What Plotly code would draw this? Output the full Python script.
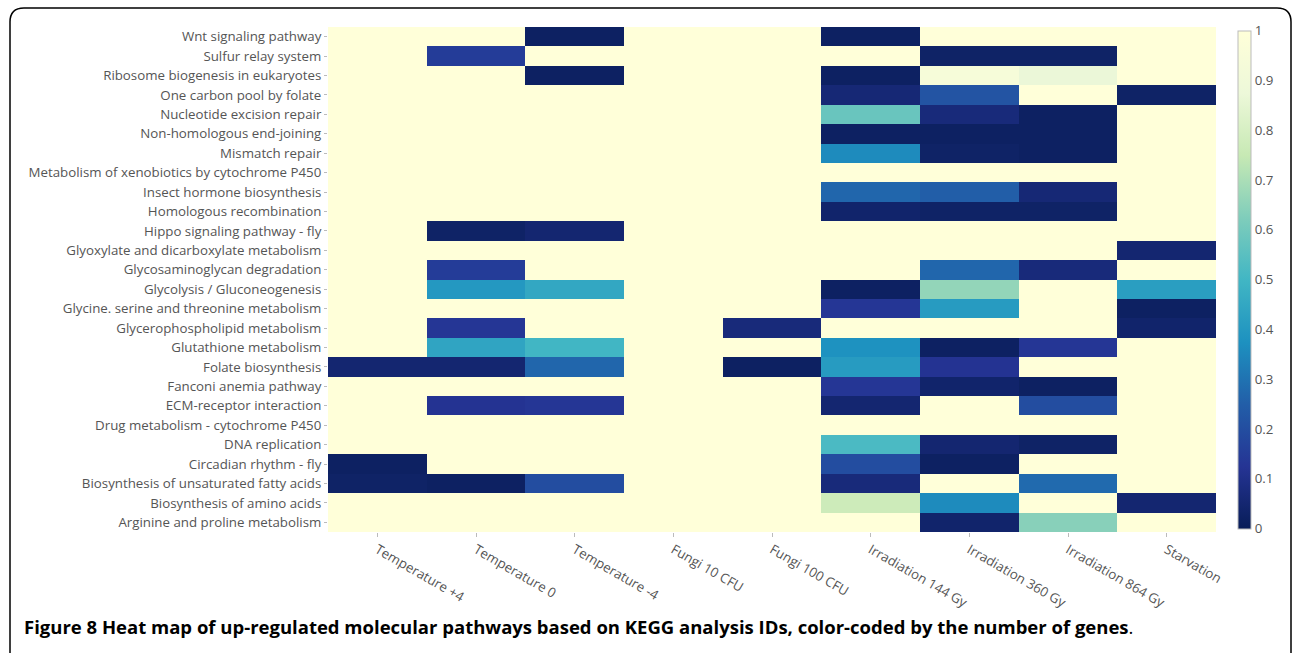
import plotly.graph_objects as go

conditions = ["Temperature +4", "Temperature 0", "Temperature -4", "Fungi 10 CFU",
              "Fungi 100 CFU", "Irradiation 144 Gy", "Irradiation 360 Gy",
              "Irradiation 864 Gy", "Starvation"]

# pathways listed from bottom to top
pathways = [
    "Arginine and proline metabolism",
    "Biosynthesis of amino acids",
    "Biosynthesis of unsaturated fatty acids",
    "Circadian rhythm - fly",
    "DNA replication",
    "Drug metabolism - cytochrome P450",
    "ECM-receptor interaction",
    "Fanconi anemia pathway",
    "Folate biosynthesis",
    "Glutathione metabolism",
    "Glycerophospholipid metabolism",
    "Glycine. serine and threonine metabolism",
    "Glycolysis / Gluconeogenesis",
    "Glycosaminoglycan degradation",
    "Glyoxylate and dicarboxylate metabolism",
    "Hippo signaling pathway - fly",
    "Homologous recombination",
    "Insect hormone biosynthesis",
    "Metabolism of xenobiotics by cytochrome P450",
    "Mismatch repair",
    "Non-homologous end-joining",
    "Nucleotide excision repair",
    "One carbon pool by folate",
    "Ribosome biogenesis in eukaryotes",
    "Sulfur relay system",
    "Wnt signaling pathway",
]

# values per pathway (same order as pathways), columns follow conditions
values = [
    [1, 1, 1, 1, 1, 1, 0.04, 0.64, 1],          # Arginine and proline
    [1, 1, 1, 1, 1, 0.77, 0.36, 1, 0.05],       # Biosynthesis of amino acids
    [0.03, 0.02, 0.20, 1, 1, 0.07, 1, 0.28, 1], # Biosynthesis of unsaturated FA
    [0.02, 1, 1, 1, 1, 0.20, 0.02, 1, 1],       # Circadian rhythm
    [1, 1, 1, 1, 1, 0.52, 0.05, 0.03, 1],       # DNA replication
    [1, 1, 1, 1, 1, 1, 1, 1, 1],                # Drug metabolism
    [1, 0.12, 0.13, 1, 1, 0.05, 1, 0.20, 1],    # ECM-receptor
    [1, 1, 1, 1, 1, 0.13, 0.04, 0.02, 1],       # Fanconi anemia
    [0.05, 0.05, 0.27, 1, 0.02, 0.41, 0.12, 1, 1],  # Folate biosynthesis
    [1, 0.44, 0.50, 1, 1, 0.38, 0.02, 0.13, 1], # Glutathione
    [1, 0.13, 1, 1, 0.07, 1, 1, 1, 0.04],       # Glycerophospholipid
    [1, 1, 1, 1, 1, 0.13, 0.41, 1, 0.02],       # Glycine serine threonine
    [1, 0.40, 0.45, 1, 1, 0.02, 0.66, 1, 0.42], # Glycolysis
    [1, 0.15, 1, 1, 1, 1, 0.27, 0.07, 1],       # Glycosaminoglycan degradation
    [1, 1, 1, 1, 1, 1, 1, 1, 0.05],             # Glyoxylate
    [1, 0.03, 0.05, 1, 1, 1, 1, 1, 1],          # Hippo
    [1, 1, 1, 1, 1, 0.04, 0.03, 0.03, 1],       # Homologous recombination
    [1, 1, 1, 1, 1, 0.27, 0.25, 0.06, 1],       # Insect hormone
    [1, 1, 1, 1, 1, 1, 1, 1, 1],                # Xenobiotics
    [1, 1, 1, 1, 1, 0.36, 0.03, 0.02, 1],       # Mismatch repair
    [1, 1, 1, 1, 1, 0.02, 0.02, 0.02, 1],       # NHEJ
    [1, 1, 1, 1, 1, 0.58, 0.07, 0.02, 1],       # Nucleotide excision repair
    [1, 1, 1, 1, 1, 0.06, 0.22, 1, 0.03],       # One carbon pool
    [1, 1, 0.02, 1, 1, 0.02, 0.94, 0.87, 1],    # Ribosome biogenesis
    [1, 0.15, 1, 1, 1, 1, 0.03, 0.03, 1],       # Sulfur relay
    [1, 1, 0.02, 1, 1, 0.02, 1, 1, 1],          # Wnt
]

caption = ("<b>Figure 8</b> <b>Heat map of up-regulated molecular pathways based on KEGG "
           "analysis IDs, color-coded by the number of genes</b>.")

ylgnbu = [[0, "rgb(8,29,88)"], [0.125, "rgb(37,52,148)"], [0.25, "rgb(34,94,168)"],
          [0.375, "rgb(29,145,192)"], [0.5, "rgb(65,182,196)"], [0.625, "rgb(127,205,187)"],
          [0.75, "rgb(199,233,180)"], [0.875, "rgb(237,248,217)"], [1, "rgb(255,255,217)"]]

W, H = 1293, 653
L, R, T, B = 328, 1216, 27, 532
pw, ph = R - L, B - T

def px(x):
    return (x - L) / pw

def py(y):
    return (B - y) / ph

tf = dict(family="Open Sans", size=13.3, color="#555")

fig = go.Figure(go.Heatmap(
    z=values, x=conditions, y=pathways,
    colorscale=ylgnbu, zmin=0, zmax=1,
    colorbar=dict(
        thickness=13, len=498, lenmode="pixels",
        x=px(1238), xanchor="left", xpad=0,
        y=0.5, yanchor="middle", ypad=0,
        outlinewidth=1, outlinecolor="#bbb",
        tickmode="linear", tick0=0, dtick=0.1,
        ticks="", tickfont=tf,
    ),
))

# rounded frame
x0, x1, y0, y1, r = px(10), px(1291), py(8), py(660), 14
rx, ry = r / pw, r / ph
path = (f"M {x0},{y1} L {x0},{y0 - ry} Q {x0},{y0} {x0 + rx},{y0} "
        f"L {x1 - rx},{y0} Q {x1},{y0} {x1},{y0 - ry} L {x1},{y1}")
fig.add_shape(type="path", path=path, xref="paper", yref="paper",
              line=dict(color="black", width=1.5))

fig.add_annotation(text=caption, xref="paper", yref="paper",
                   x=px(22), y=py(626), xanchor="left", yanchor="middle",
                   showarrow=False,
                   font=dict(family="Open Sans", size=18.5, color="black"))

fig.update_layout(
    width=W, height=H,
    margin=dict(l=L, r=W - R, t=T, b=H - B, pad=0),
    paper_bgcolor="white", plot_bgcolor="white",
    font=tf,
    xaxis=dict(tickangle=30, ticks="outside", ticklen=4, tickcolor="#bbb",
               showgrid=False, zeroline=False, tickfont=tf),
    yaxis=dict(ticks="outside", ticklen=3, tickcolor="#bbb",
               showgrid=False, zeroline=False, tickfont=tf),
)

fig.write_html("out.html", config={"displayModeBar": False},
               post_script="document.body.style.margin='0';")
